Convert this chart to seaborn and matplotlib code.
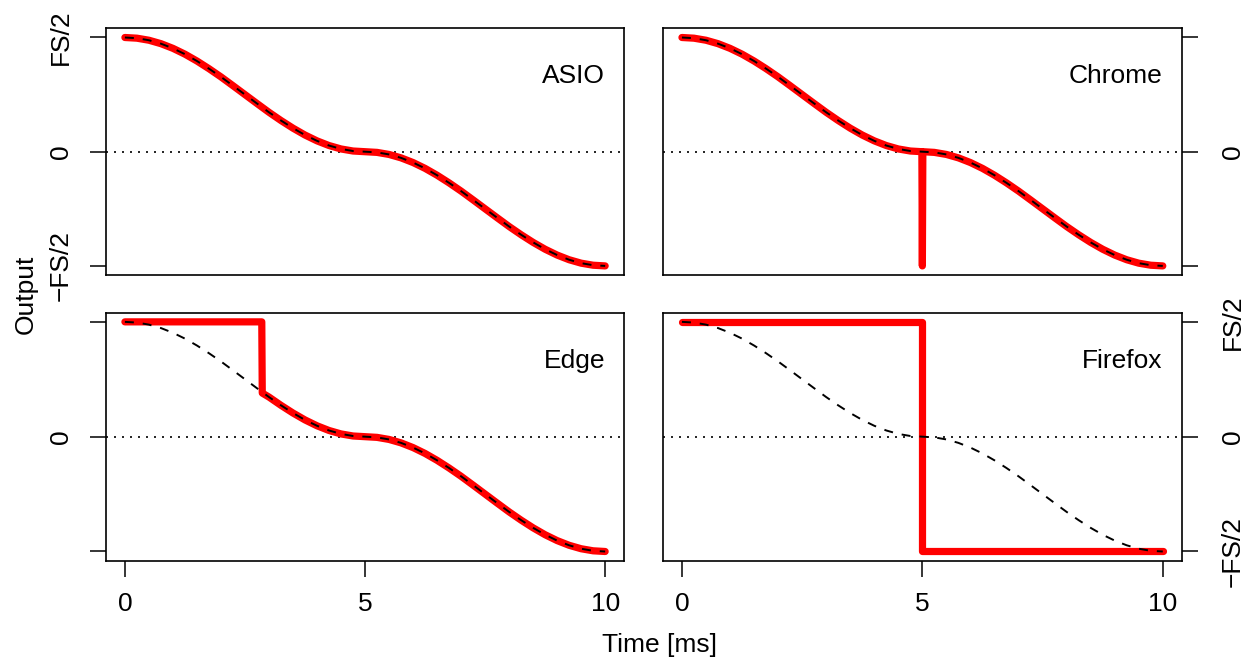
import matplotlib
matplotlib.use("Agg")
import matplotlib.pyplot as plt
import seaborn as sns
import pandas as pd

# ---- data ----
t_ideal = [0.0, 0.25, 0.5, 0.75, 1.0, 1.25, 1.5, 1.75, 2.0, 2.25, 2.5, 2.75, 3.0,
           3.25, 3.5, 3.75, 4.0, 4.25, 4.5, 4.75, 5.0, 5.25, 5.5, 5.75, 6.0, 6.25,
           6.5, 6.75, 7.0, 7.25, 7.5, 7.75, 8.0, 8.25, 8.5, 8.75, 9.0, 9.25, 9.5,
           9.75, 10.0]
ideal = [1.000, 0.994, 0.976, 0.946, 0.905, 0.854, 0.794, 0.727, 0.655, 0.578,
         0.500, 0.422, 0.345, 0.273, 0.206, 0.146, 0.095, 0.054, 0.024, 0.006,
         0.000, -0.006, -0.024, -0.054, -0.095, -0.146, -0.206, -0.273, -0.345,
         -0.422, -0.500, -0.578, -0.655, -0.727, -0.794, -0.854, -0.905, -0.946,
         -0.976, -0.994, -1.000]

asio_t = t_ideal
asio_y = ideal

chrome_t = [0.0, 0.25, 0.5, 0.75, 1.0, 1.25, 1.5, 1.75, 2.0, 2.25, 2.5, 2.75, 3.0,
            3.25, 3.5, 3.75, 4.0, 4.25, 4.5, 4.75, 4.99, 5.0, 5.01, 5.25, 5.5,
            5.75, 6.0, 6.25, 6.5, 6.75, 7.0, 7.25, 7.5, 7.75, 8.0, 8.25, 8.5,
            8.75, 9.0, 9.25, 9.5, 9.75, 10.0]
chrome_y = [1.000, 0.994, 0.976, 0.946, 0.905, 0.854, 0.794, 0.727, 0.655, 0.578,
            0.500, 0.422, 0.345, 0.273, 0.206, 0.146, 0.095, 0.054, 0.024, 0.006,
            0.000, -1.000, 0.000, -0.006, -0.024, -0.054, -0.095, -0.146, -0.206,
            -0.273, -0.345, -0.422, -0.500, -0.578, -0.655, -0.727, -0.794,
            -0.854, -0.905, -0.946, -0.976, -0.994, -1.000]

edge_t = [0.0, 2.85, 2.86, 3.0, 3.25, 3.5, 3.75, 4.0, 4.25, 4.5, 4.75, 5.0, 5.25,
          5.5, 5.75, 6.0, 6.25, 6.5, 6.75, 7.0, 7.25, 7.5, 7.75, 8.0, 8.25, 8.5,
          8.75, 9.0, 9.25, 9.5, 9.75, 10.0]
edge_y = [1.000, 1.000, 0.380, 0.345, 0.273, 0.206, 0.146, 0.095, 0.054, 0.024,
          0.006, 0.000, -0.006, -0.024, -0.054, -0.095, -0.146, -0.206, -0.273,
          -0.345, -0.422, -0.500, -0.578, -0.655, -0.727, -0.794, -0.854, -0.905,
          -0.946, -0.976, -0.994, -1.000]

firefox_t = [0.0, 5.0, 5.0, 10.0]
firefox_y = [1.0, 1.0, -1.0, -1.0]

panel_names = ["ASIO", "Chrome", "Edge", "Firefox"]
x_ticks = [0, 5, 10]
y_ticks = [-1, 0, 1]
y_ticklabels = ["\u2212FS/2", "0", "FS/2"]

# ---- style ----
sns.set_style("white")
plt.rcParams["font.family"] = ["Liberation Sans", "DejaVu Sans"]
for key in ["text.color", "axes.labelcolor", "xtick.color", "ytick.color", "axes.edgecolor"]:
    plt.rcParams[key] = "black"
FS = 19

fig = plt.figure(figsize=(12.45, 6.58), dpi=100)
positions = [
    [0.0849, 0.582, 0.4166, 0.3749],
    [0.5323, 0.582, 0.4171, 0.3749],
    [0.0849, 0.1479, 0.4166, 0.3769],
    [0.5323, 0.1479, 0.4171, 0.3769],
]
series = [(asio_t, asio_y), (chrome_t, chrome_y), (edge_t, edge_y), (firefox_t, firefox_y)]

for i, (pos, (tt, yy), name) in enumerate(zip(positions, series, panel_names)):
    ax = fig.add_axes(pos)
    ax.set_xlim(-0.4, 10.4)
    ax.set_ylim(-1.08, 1.08)
    ax.axhline(0, color="black", lw=1.2, linestyle=(0, (1.2, 3.6)), zorder=1)
    df = pd.DataFrame({"t": tt, "y": yy})
    sns.lineplot(data=df, x="t", y="y", ax=ax, estimator=None, sort=False,
                 color="#ff0000", lw=5.2, solid_capstyle="round",
                 solid_joinstyle="round", zorder=2)
    dfi = pd.DataFrame({"t": t_ideal, "y": ideal})
    sns.lineplot(data=dfi, x="t", y="y", ax=ax, estimator=None, sort=False,
                 color="black", lw=1.4, linestyle=(0, (4.6, 4.6)), zorder=3)
    ax.text(10, 0.66, name, ha="right", va="center", fontsize=FS, color="black")
    ax.set_xlabel("")
    ax.set_ylabel("")
    for sp in ax.spines.values():
        sp.set_visible(True)
        sp.set_color("black")
        sp.set_linewidth(1.2)

    right = i % 2 == 1
    bottom = i >= 2
    if bottom:
        ax.set_xticks(x_ticks)
        ax.set_xticklabels([str(v) for v in x_ticks])
    else:
        ax.set_xticks([])
    ax.set_yticks(y_ticks)
    if i == 0 or i == 3:
        labs = y_ticklabels
    else:
        labs = ["", "0", ""]
    ax.set_yticklabels(labs)
    ax.tick_params(axis="both", direction="out", length=11.5, width=1.1,
                   color="black", labelcolor="black", labelsize=FS)
    ax.tick_params(axis="x", pad=11.0, bottom=bottom)
    ax.tick_params(axis="y", labelrotation=90)
    if right:
        ax.yaxis.tick_right()
        ax.tick_params(axis="y", left=False, right=True, labelleft=False,
                       labelright=True, pad=16.5)
    else:
        ax.tick_params(axis="y", left=True, right=False, pad=12.0)
    for lab in ax.get_yticklabels():
        lab.set_va("center")

fig.text(0.530, 0.0198, "Time [ms]", ha="center", va="center", fontsize=FS, color="black")
fig.text(0.021, 0.552, "Output", ha="center", va="center", rotation=90, fontsize=FS,
         color="black")

fig.savefig("out.png", dpi=100)
